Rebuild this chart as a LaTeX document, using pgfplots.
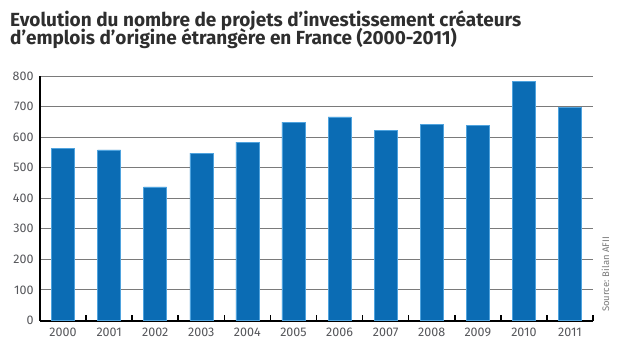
\documentclass[border=0pt]{standalone}
\usepackage{fontspec}
\setmainfont{Fira Sans}
\usepackage{pgfplots}
\pgfplotsset{compat=1.18}
\definecolor{barblue}{HTML}{0B6CB4}
\definecolor{baredge}{HTML}{4FA3DE}
\definecolor{gridgray}{HTML}{7A7A7A}
\definecolor{labgray}{HTML}{55565A}
\definecolor{titlegray}{HTML}{2E2E2E}
\begin{document}
\begin{tikzpicture}[x=1bp,y=1bp]
\path (0,0) rectangle (623,353);
\node[anchor=base west, inner sep=0pt, text=titlegray, font=\fontsize{19bp}{18bp}\selectfont\bfseries] at (10,326.3) {Evolution du nombre de projets d’investissement créateurs};
\node[anchor=base west, inner sep=0pt, text=titlegray, font=\fontsize{19bp}{18bp}\selectfont\bfseries] at (10,308.7) {d’emplois d’origine étrangère en France (2000-2011)};
\begin{axis}[
  at={(40bp,32.5bp)}, anchor=south west,
  scale only axis, width=553bp, height=244.5bp,
  xmin=-0.5, xmax=11.5, ymin=0, ymax=800,
  axis lines*=left,
  axis line style={black, line width=2bp},
  ytick={0,100,...,800},
  ymajorgrids, grid style={gridgray, line width=0.9bp},
  ytick style={draw=none},
  xtick={0,...,11},
  xticklabels={2000,2001,2002,2003,2004,2005,2006,2007,2008,2009,2010,2011},
  major x tick style={draw=none},
  minor xtick={0.5,1.5,...,11.5},
  minor tick length=6bp,
  xtick align=inside,
  minor x tick style={black, line width=1.6bp},
  tick label style={text=labgray, font=\fontsize{12.5bp}{14bp}\selectfont},
  /pgf/number format/assume math mode=true,
  yticklabel style={xshift=-3bp},
  xticklabel style={yshift=-4bp},
  clip=false,
]
\addplot[ybar, bar width=0.5, fill=barblue, draw=baredge, line width=0.5bp] coordinates {
(0,562) (1,558) (2,437) (3,548) (4,584) (5,649) (6,666) (7,623) (8,641) (9,639) (10,782) (11,698)
};
\end{axis}
\node[rotate=90, anchor=south west, inner sep=0pt, text=gridgray, font=\fontsize{9.5bp}{11bp}\selectfont] at (609.5,41) {Source: Bilan AFII};
\end{tikzpicture}
\end{document}
